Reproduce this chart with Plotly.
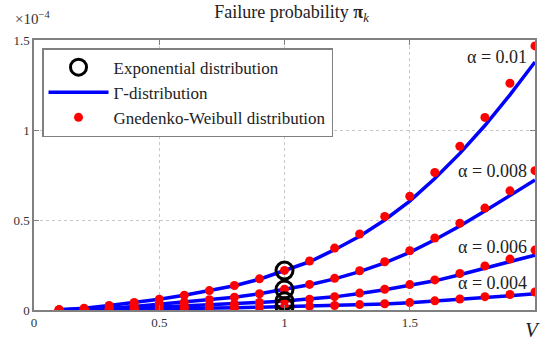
import plotly.graph_objects as go

V = [0.1, 0.2, 0.3, 0.4, 0.5, 0.6, 0.7, 0.8, 0.9, 1.0,
     1.1, 1.2, 1.3, 1.4, 1.5, 1.6, 1.7, 1.8, 1.9, 2.0]

alphas = ["0.01", "0.008", "0.006", "0.004"]

# Gnedenko-Weibull (red dots), units of 1e-4
weibull_001 = [0.002, 0.010, 0.025, 0.042, 0.060, 0.082, 0.108, 0.136, 0.173, 0.220,
               0.272, 0.344, 0.422, 0.520, 0.632, 0.764, 0.910, 1.070, 1.260, 1.467]
weibull_0008 = [0.001, 0.004, 0.010, 0.020, 0.032, 0.043, 0.057, 0.071, 0.090, 0.115,
                0.142, 0.176, 0.218, 0.268, 0.329, 0.400, 0.482, 0.566, 0.662, 0.774]
weibull_0006 = [0.0005, 0.002, 0.005, 0.010, 0.016, 0.021, 0.027, 0.034, 0.042, 0.050,
                0.060, 0.074, 0.094, 0.115, 0.141, 0.167, 0.203, 0.245, 0.283, 0.333]
weibull_0004 = [0.0003, 0.0015, 0.003, 0.004, 0.006, 0.008, 0.010, 0.012, 0.015, 0.018,
                0.021, 0.025, 0.030, 0.035, 0.041, 0.051, 0.061, 0.074, 0.086, 0.100]

# Gamma distribution (blue lines), units of 1e-4
gamma_001 = [0.002, 0.010, 0.025, 0.042, 0.060, 0.082, 0.107, 0.135, 0.171, 0.218,
             0.268, 0.335, 0.410, 0.500, 0.605, 0.730, 0.870, 1.025, 1.195, 1.378]
gamma_0008 = [0.001, 0.004, 0.010, 0.020, 0.032, 0.043, 0.057, 0.071, 0.090, 0.113,
              0.140, 0.173, 0.213, 0.262, 0.320, 0.390, 0.467, 0.550, 0.635, 0.722]
gamma_0006 = [0.0005, 0.002, 0.005, 0.010, 0.016, 0.021, 0.027, 0.034, 0.042, 0.050,
              0.060, 0.073, 0.092, 0.112, 0.137, 0.162, 0.196, 0.234, 0.268, 0.305]
gamma_0004 = [0.0003, 0.0015, 0.003, 0.004, 0.006, 0.008, 0.010, 0.012, 0.015, 0.018,
              0.021, 0.025, 0.029, 0.034, 0.040, 0.049, 0.058, 0.069, 0.079, 0.090]

# Exponential distribution (black circles) at V = 1
exp_V = [1.0, 1.0, 1.0, 1.0]
exp_vals = [0.219, 0.114, 0.049, 0.019]

# label positions for alpha annotations (y in units of 1e-4)
label_y = [1.405, 0.775, 0.35, 0.15]

x_ticks = [0, 0.5, 1, 1.5]
x_ticktext = ["0", "0.5", "1", "1.5"]
y_ticks = [0, 0.5, 1, 1.5]
y_ticktext = ["0", "0.5", "1", "1.5"]

FONT = "Liberation Serif"

fig = go.Figure()

gammas = [gamma_001, gamma_0008, gamma_0006, gamma_0004]
weibulls = [weibull_001, weibull_0008, weibull_0006, weibull_0004]

for i, g in enumerate(gammas):
    fig.add_trace(go.Scatter(
        x=V, y=g, mode="lines", line=dict(color="#0000ff", width=3.5),
        name="Γ-distribution", showlegend=(i == 0), legendrank=2))

for i, w in enumerate(weibulls):
    fig.add_trace(go.Scatter(
        x=V, y=w, mode="markers", marker=dict(color="#ff0000", size=9),
        name="Gnedenko-Weibull distribution", showlegend=(i == 0), legendrank=3))

fig.add_trace(go.Scatter(
    x=exp_V, y=exp_vals, mode="markers",
    marker=dict(symbol="circle-open", color="black", size=17, line=dict(width=3)),
    name="Exponential distribution", legendrank=1))

for a, ly in zip(alphas, label_y):
    fig.add_annotation(x=1.975, y=ly, xref="x", yref="y", text="α = " + a,
                       showarrow=False, xanchor="right", yanchor="middle",
                       font=dict(family=FONT, size=18, color="#222"))

fig.add_annotation(x=1, y=0, xref="paper", yref="paper", text="<i>V</i>",
                   showarrow=False, xanchor="center", yanchor="top", yshift=-6,
                   xshift=-3, font=dict(family=FONT, size=21, color="#222"))
fig.add_annotation(x=0, y=1, xref="paper", yref="paper", text="×10<sup>−4</sup>",
                   showarrow=False, xanchor="left", yanchor="bottom", xshift=-21,
                   yshift=11, font=dict(family=FONT, size=15, color="#333"))

axis_common = dict(showline=True, linecolor="#808080", linewidth=1.5, mirror="ticks",
                   ticks="inside", ticklen=5, tickcolor="#808080",
                   showgrid=True, gridcolor="#c8c8c8", griddash="dot", gridwidth=1,
                   zeroline=False, automargin=False,
                   tickfont=dict(family=FONT, size=13, color="#333"))

fig.update_xaxes(range=[0, 2], tickvals=x_ticks, ticktext=x_ticktext, **axis_common)
fig.update_yaxes(range=[0, 1.5], tickvals=y_ticks, ticktext=y_ticktext, **axis_common)

fig.update_layout(
    width=550, height=347,
    margin=dict(l=34, r=15, t=40, b=37),
    plot_bgcolor="white", paper_bgcolor="white",
    title=dict(text="Failure probability <b>π</b><sub><i>k</i></sub>", x=0.53, xanchor="center",
               y=0.985, yanchor="top", font=dict(family=FONT, size=18, color="#222")),
    legend=dict(x=0.016, y=0.97, xanchor="left", yanchor="top",
                bgcolor="white", bordercolor="#808080", borderwidth=1.5,
                font=dict(family=FONT, size=17, color="#222"),
                itemwidth=60, tracegroupgap=0),
    showlegend=True,
)

fig.write_html("out.html", config={"displayModeBar": False},
               post_script="document.body.style.margin='0';")
